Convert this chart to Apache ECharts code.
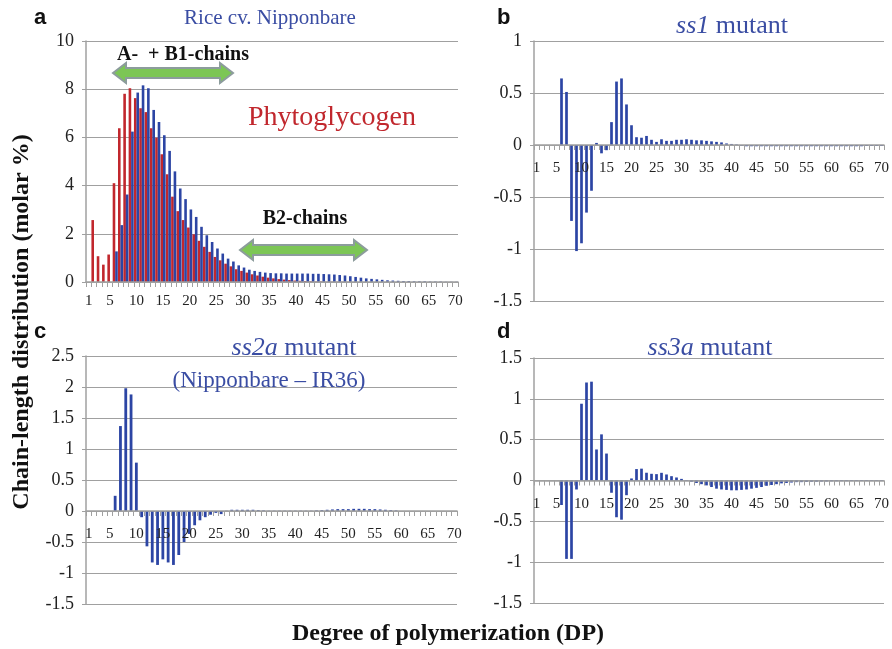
<!DOCTYPE html>
<html>
<head>
<meta charset="utf-8">
<script src="https://cdn.jsdelivr.net/npm/echarts@6/dist/echarts.min.js"></script>
<style>
html,body{margin:0;padding:0;background:#fff;}
#chart{width:892px;height:649px;}
</style>
</head>
<body>
<div id="chart"></div>
<script>
// ---------- DATA ----------
const dpCategories = ['1','2','3','4','5','6','7','8','9','10','11','12','13','14','15','16','17','18','19','20',
'21','22','23','24','25','26','27','28','29','30','31','32','33','34','35','36','37','38','39','40',
'41','42','43','44','45','46','47','48','49','50','51','52','53','54','55','56','57','58','59','60',
'61','62','63','64','65','66','67','68','69','70'];
const xTickLabels = [1,5,10,15,20,25,30,35,40,45,50,55,60,65,70];

// Panel a: Phytoglycogen (red) and Nipponbare (blue), molar %
const phytoglycogen = [null,2.57,1.07,0.72,1.14,4.10,6.38,7.81,8.04,7.63,
7.21,7.05,6.38,5.99,5.30,4.47,3.54,2.94,2.57,2.26,
1.98,1.71,1.46,1.25,1.04,0.90,0.76,0.65,0.53,0.46,
0.39,0.32,0.27,0.22,0.18,0.15,0.12,0.10,0.08,0.06,
0.05,0.04,0.03,0.02,0.02,0.01,0.01,0.01,0.01,0.01,
null,null,null,null,null,null,null,null,null,null,
null,null,null,null,null,null,null,null,null,null];
const nipponbare = [null,null,null,null,null,1.27,2.36,3.63,6.24,7.86,
8.16,8.04,7.14,6.64,6.09,5.44,4.59,3.88,3.44,3.01,
2.70,2.29,1.94,1.66,1.39,1.18,0.97,0.85,0.69,0.60,
0.51,0.46,0.42,0.39,0.37,0.36,0.36,0.35,0.35,0.35,
0.35,0.35,0.34,0.34,0.33,0.32,0.31,0.29,0.27,0.24,
0.21,0.18,0.15,0.13,0.11,0.09,0.07,0.06,0.05,0.04,
0.04,0.03,0.03,0.03,0.02,0.02,0.02,0.01,0.01,0.01];

// Panel b: ss1 mutant difference
const ss1 = [null,null,null,null,null,0.64,0.51,-0.73,-1.02,-0.945,
-0.65,-0.44,0.02,-0.08,-0.05,0.22,0.61,0.64,0.39,0.19,
0.075,0.07,0.087,0.05,0.03,0.055,0.04,0.04,0.05,0.05,
0.055,0.05,0.045,0.045,0.04,0.035,0.03,0.025,0.015,0.01,
0.005,-0.005,-0.012,-0.012,-0.012,-0.012,-0.012,-0.012,-0.012,-0.012,
-0.012,-0.012,-0.012,-0.012,-0.012,-0.012,-0.012,-0.012,-0.012,-0.012,
-0.012,-0.012,-0.012,-0.012,-0.012,-0.012,-0.008,-0.008,-0.008,-0.008];

// Panel c: ss2a mutant (Nipponbare - IR36)
const ss2a = [null,null,null,null,null,0.245,1.37,1.98,1.88,0.78,
-0.10,-0.57,-0.83,-0.87,-0.78,-0.83,-0.87,-0.71,-0.50,-0.37,
-0.23,-0.15,-0.10,-0.06,-0.03,-0.05,0.005,0.02,0.02,0.02,
0.02,0.02,0.015,0.01,0.005,0.005,0.005,0.005,0.005,0.005,
0.005,0.005,0.005,0.01,0.015,0.02,0.025,0.03,0.03,0.03,
0.035,0.035,0.035,0.03,0.03,0.025,0.02,0.015,0.01,null,
null,null,null,null,null,null,null,null,null,null];

// Panel d: ss3a mutant
const ss3a = [null,null,null,null,null,-0.30,-0.96,-0.96,-0.11,0.94,
1.20,1.21,0.38,0.565,0.33,-0.15,-0.45,-0.48,-0.18,0.025,
0.14,0.145,0.095,0.082,0.078,0.094,0.074,0.053,0.037,0.02,
0.005,-0.016,-0.03,-0.045,-0.06,-0.08,-0.10,-0.11,-0.115,-0.12,
-0.12,-0.115,-0.11,-0.10,-0.09,-0.08,-0.065,-0.055,-0.045,-0.035,
-0.03,-0.025,-0.02,-0.02,-0.018,-0.016,-0.015,-0.013,-0.012,-0.01,
-0.009,-0.008,-0.008,-0.007,-0.007,-0.006,-0.006,-0.005,-0.005,-0.005];

// ---------- STYLE ----------
const SERIF = "'Liberation Serif','Times New Roman',serif";
const SANS = "'Liberation Sans',Arial,sans-serif";
const BLUE = '#2C45A4';
const RED = '#C1272D';
const TITLE_BLUE = '#3A4DA3';
const GRID_COL = '#a0a0a0';

const chart = echarts.init(document.getElementById('chart'), null, {renderer:'canvas'});

const grids = [
  {left:86, top:41, width:372, height:241},
  {left:534, top:41, width:351, height:260},
  {left:86, top:356, width:371, height:248},
  {left:534, top:358, width:351, height:245}
];

function xAxisCfg(gridIndex, margin){
  return {
    type:'category', gridIndex, data: dpCategories, position:'bottom', offset:0, z:5,
    axisLine:{show:true, onZero:false, lineStyle:{color:GRID_COL, width:1.5}},
    axisTick:{show:true, interval:0, length:5, alignWithLabel:false, lineStyle:{color:GRID_COL}},
    axisLabel:{
      show:true, margin,
      interval:(idx, val)=> xTickLabels.indexOf(Number(val)) >= 0,
      fontFamily:SERIF, fontSize:15, color:'#222'
    },
    splitLine:{show:false}
  };
}
function yAxisCfg(gridIndex, min, max, interval){
  return {
    type:'value', gridIndex, min, max, interval,
    axisLine:{show:true, lineStyle:{color:GRID_COL, width:1.5}},
    axisTick:{show:true, length:4, lineStyle:{color:GRID_COL}},
    axisLabel:{fontFamily:SERIF, fontSize:18, color:'#222', margin:12},
    splitLine:{show:true, lineStyle:{color:GRID_COL, width:1.2}}
  };
}

function arrowPoints(x1, x2, yc){
  const hl = 13, bh = 5, hh = 10;
  return [[x1,yc],[x1+hl,yc-hh],[x1+hl,yc-bh],[x2-hl,yc-bh],[x2-hl,yc-hh],[x2,yc],
          [x2-hl,yc+hh],[x2-hl,yc+bh],[x1+hl,yc+bh],[x1+hl,yc+hh]];
}

function tStyle(size, italic){
  return {fontFamily:SERIF, fontSize:size, color:TITLE_BLUE, fontWeight:'normal', fontStyle: italic ? 'italic' : 'normal', lineHeight:size+2};
}
function mutantTitle(gene, cx, cy){
  return {text:'{i|'+gene+'}{n| mutant}', left:cx, top:cy-14, textAlign:'center', padding:0,
    textStyle:{rich:{i:tStyle(26,true), n:tStyle(26,false)}}};
}

const option = {
  animation:false,
  backgroundColor:'#fff',
  grid:grids,
  xAxis:[xAxisCfg(0,12), xAxisCfg(1,16), xAxisCfg(2,16), xAxisCfg(3,16)],
  yAxis:[yAxisCfg(0,0,10,2), yAxisCfg(1,-1.5,1,0.5), yAxisCfg(2,-1.5,2.5,0.5), yAxisCfg(3,-1.5,1.5,0.5)],
  title:[
    {text:'Rice cv. Nipponbare', left:270, top:7, textAlign:'center', padding:0, textStyle:tStyle(21,false)},
    mutantTitle('ss1', 732, 26),
    mutantTitle('ss2a', 294, 348),
    {text:'(Nipponbare – IR36)', left:269, top:368, textAlign:'center', padding:0, textStyle:tStyle(23,false)},
    mutantTitle('ss3a', 710, 348)
  ],
  series:[
    {type:'bar', name:'Phytoglycogen', xAxisIndex:0, yAxisIndex:0, data:phytoglycogen,
      barWidth:2.6, barGap:'-4%', itemStyle:{color:RED}},
    {type:'bar', name:'Nipponbare', xAxisIndex:0, yAxisIndex:0, data:nipponbare,
      barWidth:2.6, barGap:'-4%', itemStyle:{color:BLUE}},
    {type:'bar', name:'ss1', xAxisIndex:1, yAxisIndex:1, data:ss1, barWidth:2.7, itemStyle:{color:BLUE}},
    {type:'bar', name:'ss2a', xAxisIndex:2, yAxisIndex:2, data:ss2a, barWidth:2.8, itemStyle:{color:BLUE}},
    {type:'bar', name:'ss3a', xAxisIndex:3, yAxisIndex:3, data:ss3a, barWidth:2.7, itemStyle:{color:BLUE}}
  ],
  graphic:[
    {type:'text', left:34, top:7, style:{text:'a', font:"bold 22px "+SANS, fill:'#111'}},
    {type:'text', left:497, top:7, style:{text:'b', font:"bold 22px "+SANS, fill:'#111'}},
    {type:'text', left:34, top:321, style:{text:'c', font:"bold 22px "+SANS, fill:'#111'}},
    {type:'text', left:497, top:321, style:{text:'d', font:"bold 22px "+SANS, fill:'#111'}},
    {type:'text', x:183, y:55, style:{text:'A-  + B1-chains', font:"bold 20px "+SERIF, fill:'#111', textAlign:'center', textVerticalAlign:'middle'}},
    {type:'polygon', shape:{points:arrowPoints(113,233,73)}, style:{fill:'#7CC655', stroke:'#8C9C9C', lineWidth:2}},
    {type:'text', x:305, y:219, style:{text:'B2-chains', font:"bold 20px "+SERIF, fill:'#111', textAlign:'center', textVerticalAlign:'middle'}},
    {type:'polygon', shape:{points:arrowPoints(240,367,250)}, style:{fill:'#7CC655', stroke:'#8C9C9C', lineWidth:2}},
    {type:'text', x:332, y:118, style:{text:'Phytoglycogen', font:"28px "+SERIF, fill:RED, textAlign:'center', textVerticalAlign:'middle'}},
    {type:'text', x:22, y:322, rotation:Math.PI/2, style:{text:'Chain-length distribution (molar %)', font:"bold 24px "+SERIF, fill:'#111', textAlign:'center', textVerticalAlign:'middle'}},
    {type:'text', x:448, y:634, style:{text:'Degree of polymerization (DP)', font:"bold 24px "+SERIF, fill:'#111', textAlign:'center', textVerticalAlign:'middle'}}
  ]
};
chart.setOption(option);

// Move the category axes of the difference panels to the zero line of their value axis
const newX = [0,1,2,3].map(i => {
  const zeroPx = chart.convertToPixel({yAxisIndex:i}, 0);
  const bottomPx = grids[i].top + grids[i].height;
  return {offset: zeroPx - bottomPx};
});
chart.setOption({xAxis:newX});
</script>
</body>
</html>
